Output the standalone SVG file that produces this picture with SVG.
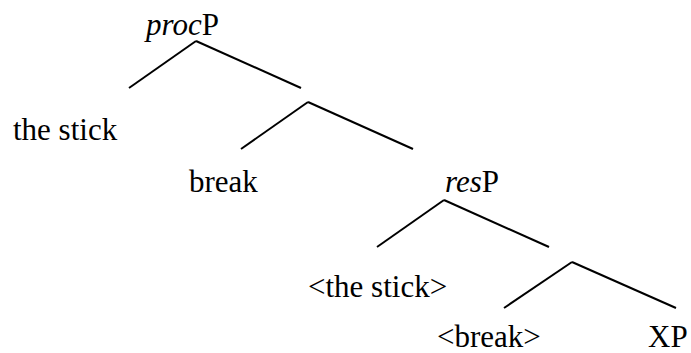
<svg xmlns="http://www.w3.org/2000/svg" width="691" height="353" viewBox="0 0 691 353">
<style>
text{font-family:'Liberation Serif','Times New Roman',serif;font-size:31px;fill:#000}
.i{font-style:italic}
line{stroke:#000;stroke-width:2;stroke-linecap:butt}
</style>
<rect width="691" height="353" fill="#fff"/>
<g id="connectors">
<line x1="196" y1="41" x2="129" y2="88"/>
<line x1="196" y1="41" x2="301" y2="88"/>
<line x1="308" y1="102" x2="241" y2="149"/>
<line x1="308" y1="102" x2="413" y2="149"/>
<line x1="444" y1="200" x2="377" y2="247"/>
<line x1="444" y1="200" x2="549" y2="247"/>
<line x1="572" y1="262" x2="504" y2="308"/>
<line x1="572" y1="262" x2="676" y2="308"/>
</g>
<g font-family="Liberation Serif, Times New Roman, serif">
<g id="procP"><text x="146" y="35"><tspan class="i">proc</tspan>P</text></g>
<g id="the-stick"><text x="13" y="140">the stick</text></g>
<g id="break"><text x="189" y="192">break</text></g>
<g id="resP"><text x="445" y="192"><tspan class="i">res</tspan>P</text></g>
<g id="the-stick-copy"><text x="308" y="297">&lt;the stick&gt;</text></g>
<g id="break-copy"><text x="437" y="347">&lt;break&gt;</text></g>
<g id="XP"><text x="648" y="347">XP</text></g>
</g>
</svg>
